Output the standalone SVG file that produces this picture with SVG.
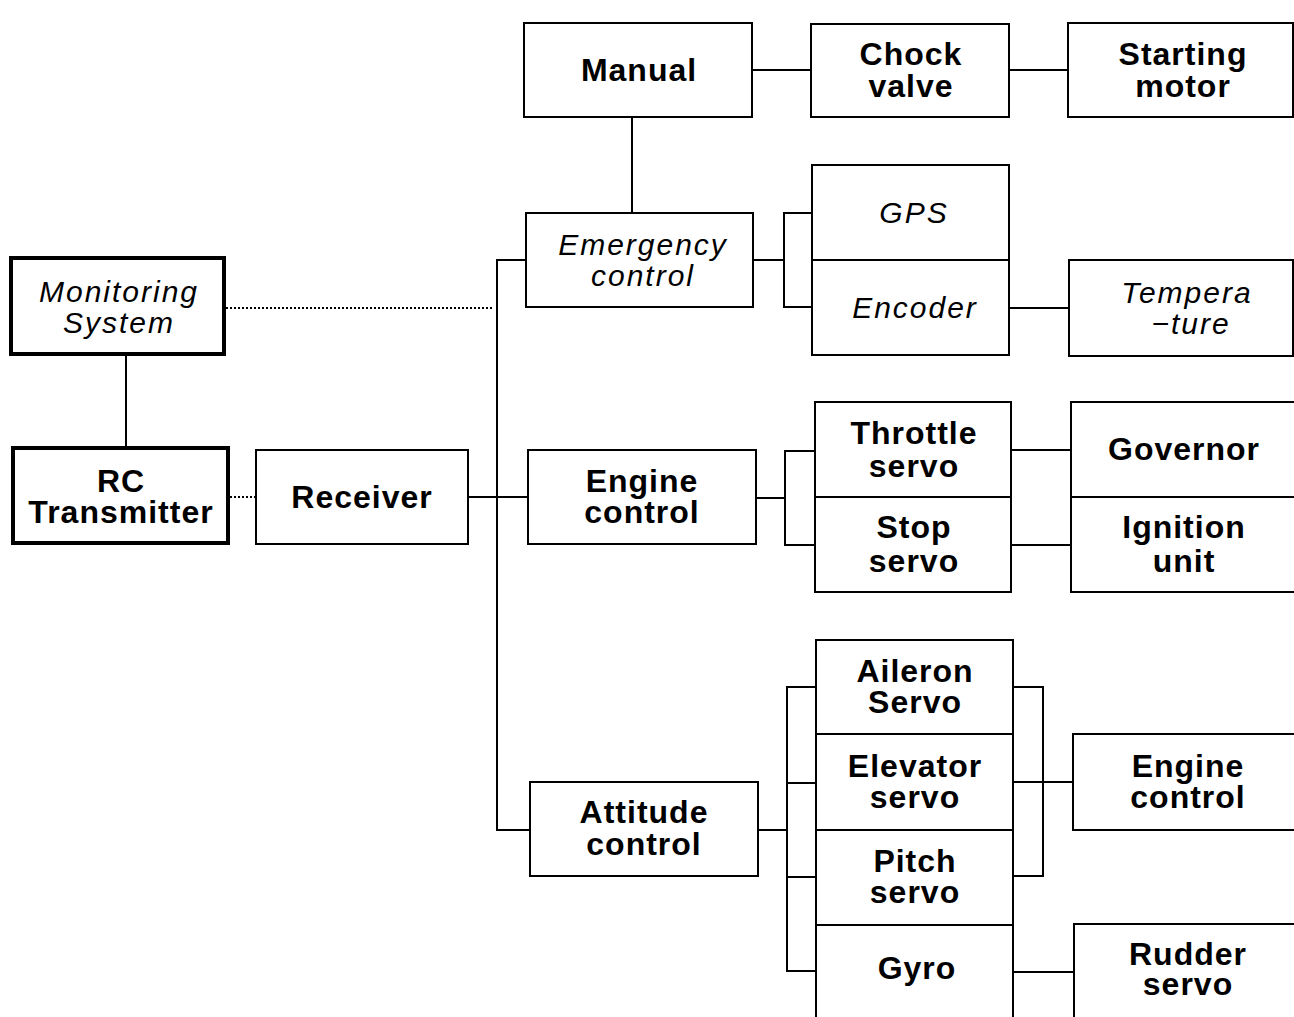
<svg xmlns="http://www.w3.org/2000/svg" width="1294" height="1017" viewBox="0 0 1294 1017">
<style>
  .box { fill: #fff; stroke: #000; stroke-width: 2; }
  .thick { fill: #fff; stroke: #000; stroke-width: 4; }
  .b { font-family: "Liberation Sans", Arial, Helvetica, sans-serif; font-weight: bold; font-size: 32px; letter-spacing: 1px; text-anchor: middle; fill: #000; }
  .i { font-family: "Liberation Sans", Arial, Helvetica, sans-serif; font-style: italic; font-size: 30px; letter-spacing: 2px; text-anchor: middle; fill: #000; }
  .c { fill: none; stroke: #000; stroke-width: 2; }
  .d { fill: none; stroke: #000; stroke-width: 2; stroke-dasharray: 2 2; }
</style>
<rect width="1294" height="1017" fill="#fff"/>
<g id="connectors">
  <line class="c" x1="126" y1="354" x2="126" y2="448"/>
  <line class="d" x1="226" y1="308" x2="494" y2="308"/>
  <line class="d" x1="230" y1="497" x2="256" y2="497"/>
  <line class="c" x1="468" y1="497" x2="528" y2="497"/>
  <path class="c" d="M526,260 H497 V830 H530"/>
  <line class="c" x1="632" y1="117" x2="632" y2="213"/>
  <line class="c" x1="752" y1="70" x2="811" y2="70"/>
  <line class="c" x1="1009" y1="70" x2="1068" y2="70"/>
  <line class="c" x1="753" y1="260" x2="784" y2="260"/>
  <path class="c" d="M812,213 H784 V307 H812"/>
  <line class="c" x1="1009" y1="308" x2="1069" y2="308"/>
  <line class="c" x1="756" y1="498" x2="785" y2="498"/>
  <path class="c" d="M815,451 H785 V545 H815"/>
  <line class="c" x1="1011" y1="450" x2="1071" y2="450"/>
  <line class="c" x1="1011" y1="545" x2="1071" y2="545"/>
  <line class="c" x1="758" y1="830" x2="787" y2="830"/>
  <path class="c" d="M816,687 H787 V971 H816"/>
  <line class="c" x1="787" y1="783" x2="816" y2="783"/>
  <line class="c" x1="787" y1="877" x2="816" y2="877"/>
  <path class="c" d="M1013,687 H1043 V876 H1013"/>
  <line class="c" x1="1013" y1="782" x2="1073" y2="782"/>
  <line class="c" x1="1013" y1="972" x2="1074" y2="972"/>
</g>
<g id="monitoring">
  <rect class="thick" x="11" y="258" width="213" height="96"/>
  <text class="i" x="119" y="302">Monitoring</text>
  <text class="i" x="119" y="333">System</text>
</g>
<g id="rc-transmitter">
  <rect class="thick" x="13" y="448" width="215" height="95"/>
  <text class="b" x="121" y="492">RC</text>
  <text class="b" x="121" y="523">Transmitter</text>
</g>
<g id="receiver">
  <rect class="box" x="256" y="450" width="212" height="94"/>
  <text class="b" x="362" y="508">Receiver</text>
</g>
<g id="manual">
  <rect class="box" x="524" y="23" width="228" height="94"/>
  <text class="b" x="639" y="81">Manual</text>
</g>
<g id="emergency-control">
  <rect class="box" x="526" y="213" width="227" height="94"/>
  <text class="i" x="643" y="255">Emergency</text>
  <text class="i" x="643" y="286">control</text>
</g>
<g id="chock-valve">
  <rect class="box" x="811" y="24" width="198" height="93"/>
  <text class="b" x="911" y="65">Chock</text>
  <text class="b" x="911" y="97">valve</text>
</g>
<g id="starting-motor">
  <rect class="box" x="1068" y="23" width="225" height="94"/>
  <text class="b" x="1183" y="65">Starting</text>
  <text class="b" x="1183" y="97">motor</text>
</g>
<g id="gps">
  <rect class="box" x="812" y="165" width="197" height="95"/>
  <text class="i" x="914" y="223">GPS</text>
</g>
<g id="encoder">
  <rect class="box" x="812" y="260" width="197" height="95"/>
  <text class="i" x="915" y="318">Encoder</text>
</g>
<g id="temperature">
  <rect class="box" x="1069" y="260" width="224" height="96"/>
  <text class="i" x="1187" y="303">Tempera</text>
  <text class="i" x="1191" y="334">−ture</text>
</g>
<g id="engine-control">
  <rect class="box" x="528" y="450" width="228" height="94"/>
  <text class="b" x="642" y="492">Engine</text>
  <text class="b" x="642" y="523">control</text>
</g>
<g id="throttle-servo">
  <rect class="box" x="815" y="402" width="196" height="95"/>
  <text class="b" x="914" y="444">Throttle</text>
  <text class="b" x="914" y="477">servo</text>
</g>
<g id="stop-servo">
  <rect class="box" x="815" y="497" width="196" height="95"/>
  <text class="b" x="914" y="538">Stop</text>
  <text class="b" x="914" y="572">servo</text>
</g>
<g id="governor">
  <rect class="box" x="1071" y="402" width="230" height="95"/>
  <text class="b" x="1184" y="460">Governor</text>
</g>
<g id="ignition-unit">
  <rect class="box" x="1071" y="497" width="230" height="95"/>
  <text class="b" x="1184" y="538">Ignition</text>
  <text class="b" x="1184" y="572">unit</text>
</g>
<g id="attitude-control">
  <rect class="box" x="530" y="782" width="228" height="94"/>
  <text class="b" x="644" y="823">Attitude</text>
  <text class="b" x="644" y="855">control</text>
</g>
<g id="aileron-servo">
  <rect class="box" x="816" y="640" width="197" height="94"/>
  <text class="b" x="915" y="682">Aileron</text>
  <text class="b" x="915" y="713">Servo</text>
</g>
<g id="elevator-servo">
  <rect class="box" x="816" y="734" width="197" height="96"/>
  <text class="b" x="915" y="777">Elevator</text>
  <text class="b" x="915" y="808">servo</text>
</g>
<g id="pitch-servo">
  <rect class="box" x="816" y="830" width="197" height="95"/>
  <text class="b" x="915" y="872">Pitch</text>
  <text class="b" x="915" y="903">servo</text>
</g>
<g id="gyro">
  <rect class="box" x="816" y="925" width="197" height="100"/>
  <text class="b" x="917" y="979">Gyro</text>
</g>
<g id="engine-control-2">
  <rect class="box" x="1073" y="734" width="230" height="96"/>
  <text class="b" x="1188" y="777">Engine</text>
  <text class="b" x="1188" y="808">control</text>
</g>
<g id="rudder-servo">
  <rect class="box" x="1074" y="924" width="230" height="100"/>
  <text class="b" x="1188" y="965">Rudder</text>
  <text class="b" x="1188" y="995">servo</text>
</g>
</svg>
